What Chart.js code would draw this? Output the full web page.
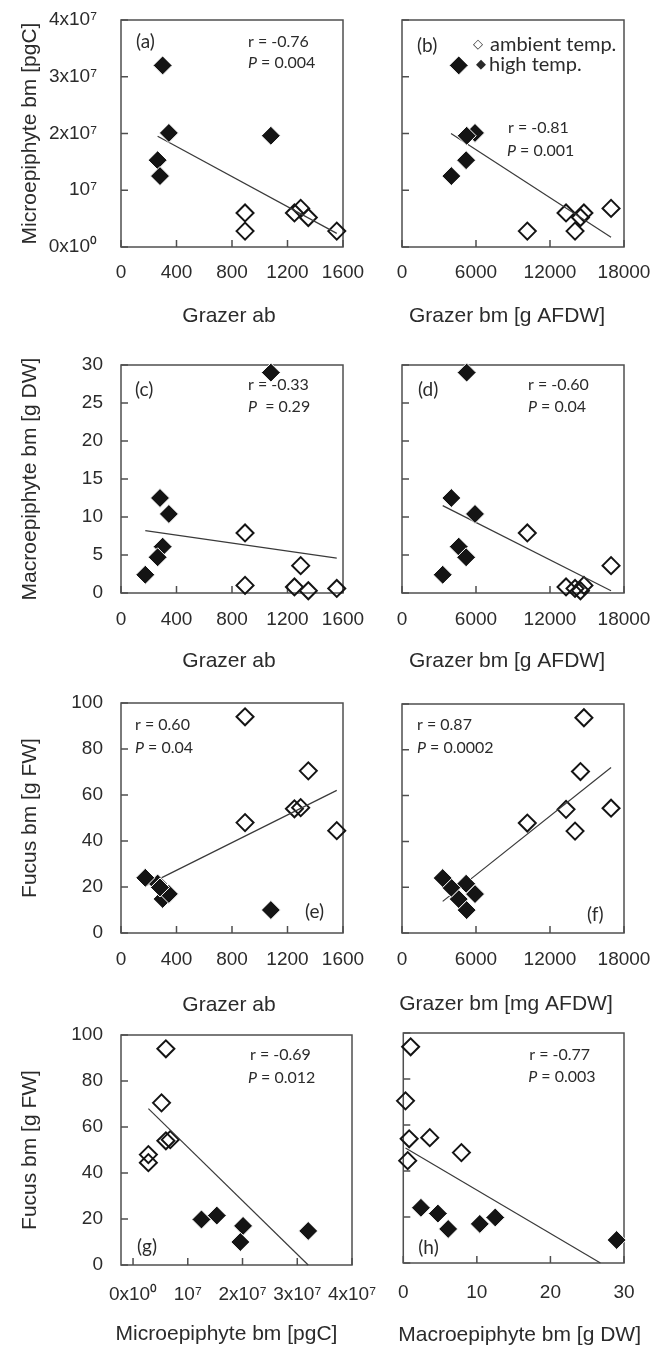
<!DOCTYPE html>
<html>
<head>
<meta charset="utf-8">
<script src="https://cdn.jsdelivr.net/npm/chart.js@4.4.1/dist/chart.umd.min.js"></script>
<style>
  html, body { margin: 0; background: #fff; }
  #page { position: relative; width: 657px; height: 1349px; overflow: hidden; }
  #page canvas { position: absolute; }
</style>
</head>
<body>
<div id="page"></div>
<script>
/* Eight scatter panels: grazers, epiphytes and Fucus at ambient vs high temperature.
   Each sample is one mesocosm; panels pair two of its measured variables. */

// ambient temperature mesocosms
const AMB_GRAZER_AB = [894, 894, 1250, 1295, 1350, 1555];
const AMB_GRAZER_BM = [14750, 10160, 13300, 16950, 14470, 14030];
const AMB_MICRO = [6.0e6, 2.8e6, 6.0e6, 6.8e6, 5.2e6, 2.8e6];
const AMB_MACRO = [1.0, 7.9, 0.8, 3.6, 0.3, 0.6];
const AMB_FUCUS = [94, 48, 54, 54.5, 70.5, 44.5];

// high temperature mesocosms (one microepiphyte sample missing)
const HIGH_GRAZER_AB = [300, 345, 1080, 264, 281, 175];
const HIGH_GRAZER_BM = [4600, 5920, 5243, 5200, 4000, 3300];
const HIGH_MICRO = [32e6, 20.1e6, 19.6e6, 15.3e6, 12.5e6, null];
const HIGH_MACRO = [6.1, 10.4, 29, 4.7, 12.5, 2.4];
const HIGH_FUCUS = [14.8, 17, 10, 21.5, 19.8, 24];

// regression lines (end points)
const TREND_A = { x: [264, 1555], y: [19.5e6, 2.4e6] };
const TREND_B = { x: [3973, 16950], y: [20.0e6, 1.7e6] };
const TREND_C = { x: [175, 1555], y: [8.2, 4.6] };
const TREND_D = { x: [3300, 16950], y: [11.5, 0.3] };
const TREND_E = { x: [175, 1555], y: [20.5, 62] };
const TREND_F = { x: [3300, 16950], y: [13.8, 72.3] };
const TREND_G = { x: [2.8e6, 32e6], y: [68, 0] };
const TREND_H = { x: [0.3, 26.8], y: [50, 0] };

// axis ticks
const AB_TICKS = [0, 400, 800, 1200, 1600];
const BM_TICKS = [0, 6000, 12000, 18000];
const MICRO_TICKS = [0, 1e7, 2e7, 3e7, 4e7];
const MICRO_LABELS = ['0x10\u2070', '10\u2077', '2x10\u2077', '3x10\u2077', '4x10\u2077'];
const MACRO_TICKS = [0, 5, 10, 15, 20, 25, 30];
const MACRO_X_TICKS = [0, 10, 20, 30];
const FUCUS_TICKS = [0, 20, 40, 60, 80, 100];

const INK = '#2b2b2b';
const SANS = "'Liberation Sans', Arial, sans-serif";
const NOTE_FONT = "Lato, 'DejaVu Sans', sans-serif";
Chart.defaults.font.family = SANS;
Chart.defaults.color = INK;

const page = document.getElementById('page');
// canvases run past the page edge so the last x label never squeezes the plot
const COLS = { L: { left: 0, width: 400 }, R: { left: 380, width: 300 } };
const AXIS_H = 84;
const TOP_PAD = 40;

function pairs(xs, ys) {
  return xs.map((x, i) => ({ x, y: ys[i] })).filter(p => p.y != null);
}

function axis(ticks, labels, range) {
  return {
    min: range ? range[0] : ticks[0],
    max: range ? range[1] : ticks[ticks.length - 1],
    ticks: ticks,
    labels: labels || ticks.map(String)
  };
}

function drawNotes(ctx, area, notes) {
  ctx.fillStyle = INK;
  ctx.textBaseline = 'middle';
  ctx.textAlign = 'left';
  notes.forEach(([txt, dx, dy, size, fam]) => {
    const x0 = area.left + dx, y0 = area.top + dy;
    const family = fam || NOTE_FONT;
    if (txt.startsWith('P ')) {
      ctx.font = `italic ${size}px ${family}`;
      ctx.fillText('P', x0, y0);
      const w = ctx.measureText('P').width;
      ctx.font = `${size}px ${family}`;
      ctx.fillText(txt.slice(1), x0 + w, y0);
    } else {
      ctx.font = `${size}px ${family}`;
      ctx.fillText(txt, x0, y0);
    }
  });
}

function panel(p) {
  const [l, t, r, b] = p.box;
  const col = p.col === 'L' ? COLS.L : COLS.R;
  const top = t - TOP_PAD;
  const height = b + AXIS_H - top;

  const cv = document.createElement('canvas');
  cv.width = col.width;
  cv.height = height;
  cv.style.left = col.left + 'px';
  cv.style.top = top + 'px';
  page.appendChild(cv);

  // frame, inward tick marks, in-plot labels and axis titles
  // (titles drawn here so long ones may run past the plot width unsquashed)
  const framePlugin = {
    id: 'frame',
    beforeDatasetsDraw(chart) {
      const { ctx, chartArea: a, scales: { x, y } } = chart;
      ctx.save();
      ctx.strokeStyle = '#4f4f4f';
      ctx.lineWidth = 1.5;
      ctx.strokeRect(a.left, a.top, a.right - a.left, a.bottom - a.top);
      ctx.beginPath();
      y.ticks.forEach(tk => {
        const py = y.getPixelForValue(tk.value);
        ctx.moveTo(a.left, py);
        ctx.lineTo(a.left + 7, py);
      });
      x.ticks.forEach(tk => {
        const px = x.getPixelForValue(tk.value);
        ctx.moveTo(px, a.bottom);
        ctx.lineTo(px, a.bottom - 7);
      });
      ctx.stroke();
      drawNotes(ctx, a, p.notes);
      ctx.restore();
    },
    afterDraw(chart) {
      const { ctx, chartArea: a } = chart;
      ctx.save();
      ctx.fillStyle = INK;
      ctx.font = `21px ${SANS}`;
      ctx.textAlign = 'center';
      ctx.textBaseline = 'middle';
      ctx.fillText(p.xTitle, (a.left + a.right) / 2 + p.xTitleAt[0], a.bottom + p.xTitleAt[1]);
      if (p.yTitle) {
        ctx.translate(30 - col.left, (a.top + a.bottom) / 2);
        ctx.rotate(-Math.PI / 2);
        ctx.fillText(p.yTitle, 0, 0);
      }
      ctx.restore();
    }
  };

  const tickFont = { size: 19 };

  new Chart(cv, {
    type: 'scatter',
    data: {
      datasets: [
        {
          data: pairs(p.xs[1], p.ys[1]),
          pointStyle: 'rectRot',
          pointRadius: 9.5,
          backgroundColor: '#141414',
          borderColor: '#ffffff',
          borderWidth: 1,
          clip: false
        },
        {
          data: pairs(p.trend.x, p.trend.y),
          showLine: true,
          pointRadius: 0,
          borderColor: '#3a3a3a',
          borderWidth: 1.2,
          clip: false
        },
        {
          data: pairs(p.xs[0], p.ys[0]),
          pointStyle: 'rectRot',
          pointRadius: 8.5,
          backgroundColor: 'rgba(255,255,255,0)',
          borderColor: '#141414',
          borderWidth: 2,
          clip: false
        }
      ]
    },
    options: {
      responsive: false,
      animation: false,
      devicePixelRatio: 1,
      events: [],
      layout: { padding: { left: 0, top: TOP_PAD, right: col.left + col.width - r, bottom: 0 } },
      plugins: { legend: { display: false }, tooltip: { enabled: false } },
      scales: {
        x: {
          type: 'linear',
          min: p.x.min,
          max: p.x.max,
          afterBuildTicks: s => { s.ticks = p.x.ticks.map(v => ({ value: v })); },
          afterFit: s => { s.height = AXIS_H; },
          grid: { display: false, drawTicks: false },
          border: { display: false },
          ticks: {
            font: tickFont,
            padding: p.xPad,
            autoSkip: false,
            maxRotation: 0,
            callback: (v, i) => p.x.labels[i]
          }
        },
        y: {
          type: 'linear',
          min: p.y.min,
          max: p.y.max,
          afterBuildTicks: s => { s.ticks = p.y.ticks.map(v => ({ value: v })); },
          afterFit: s => { s.width = l - col.left; },
          grid: { display: false, drawTicks: false },
          border: { display: false },
          ticks: {
            display: !!p.yTitle,
            font: tickFont,
            padding: p.yPad,
            callback: (v, i) => p.y.labels[i]
          }
        }
      }
    },
    plugins: [framePlugin]
  });
}

const MICRO_AXIS = axis(MICRO_TICKS, MICRO_LABELS);
const MACRO_AXIS = axis(MACRO_TICKS);
const FUCUS_AXIS = axis(FUCUS_TICKS);
const AB_AXIS = axis(AB_TICKS);
const BM_AXIS = axis(BM_TICKS);

// (a) microepiphytes vs grazer abundance
panel({
  col: 'L', box: [121, 20, 343, 247],
  xs: [AMB_GRAZER_AB, HIGH_GRAZER_AB], ys: [AMB_MICRO, HIGH_MICRO], trend: TREND_A,
  x: AB_AXIS, y: MICRO_AXIS, xPad: 14, yPad: 24,
  xTitle: 'Grazer ab', xTitleAt: [-3, 69], yTitle: 'Microepiphyte bm [pgC]',
  notes: [['(a)', 15, 22, 19], ['r = -0.76', 127, 22, 16], ['P = 0.004', 127, 43, 16]]
});

// (b) microepiphytes vs grazer biomass, with the symbol key
panel({
  col: 'R', box: [402, 20, 624, 247],
  xs: [AMB_GRAZER_BM, HIGH_GRAZER_BM], ys: [AMB_MICRO, HIGH_MICRO], trend: TREND_B,
  x: BM_AXIS, y: MICRO_AXIS, xPad: 14, yPad: 18,
  xTitle: 'Grazer bm [g AFDW]', xTitleAt: [-6, 69],
  notes: [
    ['(b)', 15, 26, 19],
    ['\u25C7', 71, 25, 13, "'DejaVu Sans'"], ['ambient temp.', 88, 25, 20],
    ['\u25C6', 74, 45, 13, "'DejaVu Sans'"], ['high temp.', 87, 45, 20],
    ['r = -0.81', 106, 108, 16], ['P = 0.001', 105, 131, 16]
  ]
});

// (c) macroepiphytes vs grazer abundance
panel({
  col: 'L', box: [121, 365, 343, 593],
  xs: [AMB_GRAZER_AB, HIGH_GRAZER_AB], ys: [AMB_MACRO, HIGH_MACRO], trend: TREND_C,
  x: AB_AXIS, y: MACRO_AXIS, xPad: 15, yPad: 18,
  xTitle: 'Grazer ab', xTitleAt: [-3, 68], yTitle: 'Macroepiphyte bm [g DW]',
  notes: [['(c)', 14, 25, 19], ['r = -0.33', 127, 20, 16], ['P  = 0.29', 127, 42, 16]]
});

// (d) macroepiphytes vs grazer biomass
panel({
  col: 'R', box: [402, 365, 624, 593],
  xs: [AMB_GRAZER_BM, HIGH_GRAZER_BM], ys: [AMB_MACRO, HIGH_MACRO], trend: TREND_D,
  x: BM_AXIS, y: MACRO_AXIS, xPad: 15, yPad: 18,
  xTitle: 'Grazer bm [g AFDW]', xTitleAt: [-6, 68],
  notes: [['(d)', 16, 25, 19], ['r = -0.60', 126, 20, 16], ['P = 0.04', 126, 42, 16]]
});

// (e) Fucus vs grazer abundance
panel({
  col: 'L', box: [121, 703, 343, 933],
  xs: [AMB_GRAZER_AB, HIGH_GRAZER_AB], ys: [AMB_FUCUS, HIGH_FUCUS], trend: TREND_E,
  x: AB_AXIS, y: FUCUS_AXIS, xPad: 15, yPad: 18,
  xTitle: 'Grazer ab', xTitleAt: [-3, 72], yTitle: 'Fucus bm [g FW]',
  notes: [['r = 0.60', 14, 22, 16], ['P = 0.04', 14, 45, 16], ['(e)', 184, 209, 19]]
});

// (f) Fucus vs grazer biomass
panel({
  col: 'R', box: [402, 704, 624, 933],
  xs: [AMB_GRAZER_BM, HIGH_GRAZER_BM], ys: [AMB_FUCUS, HIGH_FUCUS], trend: TREND_F,
  x: BM_AXIS, y: FUCUS_AXIS, xPad: 15, yPad: 18,
  xTitle: 'Grazer bm [mg AFDW]', xTitleAt: [-7, 71],
  notes: [['r = 0.87', 15, 21, 16], ['P = 0.0002', 15, 44, 16], ['(f)', 185, 211, 19]]
});

// (g) Fucus vs microepiphytes
panel({
  col: 'L', box: [121, 1035, 352, 1265],
  xs: [AMB_MICRO, HIGH_MICRO], ys: [AMB_FUCUS, HIGH_FUCUS], trend: TREND_G,
  x: axis(MICRO_TICKS, MICRO_LABELS, [-2.2e6, 4e7]), y: FUCUS_AXIS, xPad: 18, yPad: 18,
  xTitle: 'Microepiphyte bm [pgC]', xTitleAt: [-10, 69], yTitle: 'Fucus bm [g FW]',
  notes: [['r = -0.69', 129, 20, 16], ['P = 0.012', 127, 43, 16], ['(g)', 16, 212, 19]]
});

// (h) Fucus vs macroepiphytes
panel({
  col: 'R', box: [402, 1033, 624, 1263],
  xs: [AMB_MACRO, HIGH_MACRO], ys: [AMB_FUCUS, HIGH_FUCUS], trend: TREND_H,
  x: axis(MACRO_X_TICKS), y: FUCUS_AXIS, xPad: 18, yPad: 18,
  xTitle: 'Macroepiphyte bm [g DW]', xTitleAt: [6, 72],
  notes: [['r = -0.77', 126, 22, 16], ['P = 0.003', 125, 44, 16], ['(h)', 15, 215, 19]]
});
</script>
</body>
</html>
